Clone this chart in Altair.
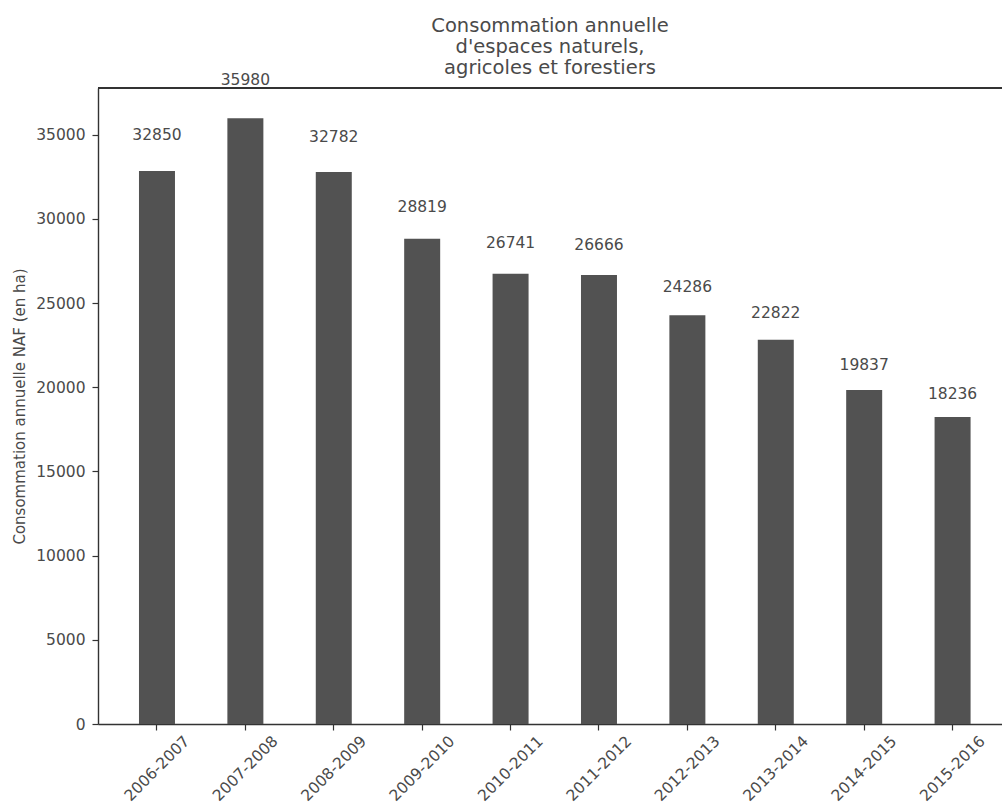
import altair as alt
import pandas as pd

periodes = ["2006-2007", "2007-2008", "2008-2009", "2009-2010", "2010-2011",
            "2011-2012", "2012-2013", "2013-2014", "2014-2015", "2015-2016"]
valeurs = [32850, 35980, 32782, 28819, 26741, 26666, 24286, 22822, 19837, 18236]

df = pd.DataFrame({"periode": periodes, "valeur": valeurs})

W = 904
H = 636
FONT = "DejaVu Sans"
TXT = "#4a4a4a"
AX = "#333333"
FS = 15.5

xscale = alt.Scale(domain=periodes, paddingInner=0.5928, paddingOuter=0.4095, align=0.566)
yscale = alt.Scale(domain=[0, 37779], nice=False, zero=True)

base = alt.Chart(df)

bars = base.mark_bar(color="#525252").encode(
    x=alt.X("periode:N", scale=xscale, sort=periodes,
            axis=alt.Axis(title=None, labelAngle=-45, labelAlign="center", labelBaseline="middle",
                          labelPadding=38, tickSize=6, labelFontSize=FS, labelColor=TXT,
                          domainColor=AX, tickColor=AX, domainWidth=1.4, tickWidth=1.2,
                          labelFont=FONT, labelOverlap=False)),
    y=alt.Y("valeur:Q", scale=yscale,
            axis=alt.Axis(title="Consommation annuelle NAF (en ha)", values=[0, 5000, 10000, 15000, 20000, 25000, 30000, 35000],
                          format="d", grid=False, tickSize=6, labelPadding=7, labelFontSize=FS,
                          labelColor=TXT, domainColor=AX, tickColor=AX, domainWidth=1.4, tickWidth=1.2,
                          labelFont=FONT, titleFont=FONT, titleFontSize=15, titleFontWeight="normal",
                          titleColor=TXT, titleAngle=-90, titleX=-79, titleY=H / 2,
                          titleAlign="center", titleBaseline="middle")),
)

labels = base.transform_calculate(ly="datum.valeur * 1.05").mark_text(
    font=FONT, fontSize=FS, color=TXT, baseline="bottom", align="center"
).encode(
    x=alt.X("periode:N", scale=xscale, sort=periodes),
    y=alt.Y("ly:Q", scale=yscale),
    text=alt.Text("valeur:Q", format="d"),
)

top_line = alt.Chart(df).mark_rule(color=AX, strokeWidth=1.4).encode(
    x=alt.value(0), x2=alt.value(W), y=alt.value(0)
)

chart = alt.layer(bars, labels, top_line).properties(
    width=W,
    height=H,
    title=alt.TitleParams(
        text=["Consommation annuelle", "d'espaces naturels,", "agricoles et forestiers"],
        font=FONT, fontSize=19.5, fontWeight="normal", color=TXT, lineHeight=21,
        anchor="middle", offset=-20, baseline="alphabetic",
    ),
    autosize=alt.AutoSizeParams(type="none"),
    padding={"left": 98, "top": 88, "right": 0, "bottom": 81},
).configure_view(stroke=None).configure(background="white")

chart.save("out.html", embed_options={"renderer": "svg", "actions": False})
